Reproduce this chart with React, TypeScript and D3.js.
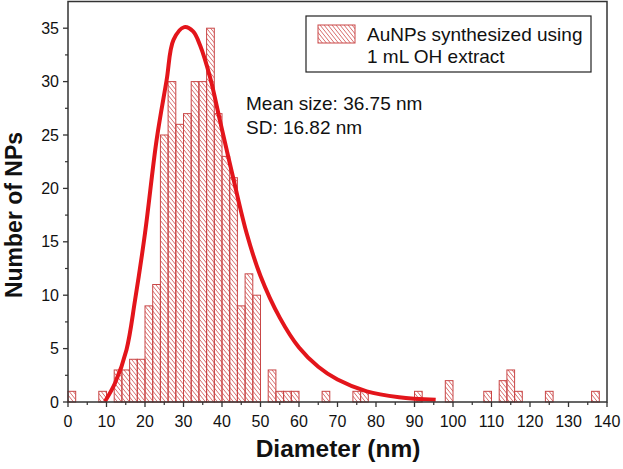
import React from "react";
import * as d3 from "d3";

const binStarts = [0, 8, 12, 14, 16, 18, 20, 22, 24, 26, 28, 30, 32, 34, 36, 38, 40, 42, 44, 46, 48, 52, 54, 56, 58, 66, 74, 76, 90, 98, 108, 112, 114, 116, 124, 136];
const counts = [1, 1, 3, 3, 4, 4, 9, 11, 25, 30, 26, 27, 30, 30, 35, 27, 23, 21, 9, 12, 10, 3, 1, 1, 1, 1, 1, 1, 1, 2, 1, 2, 3, 1, 1, 1];
const binWidth = 2;

const fitX = [9.6, 12.2, 15.2, 17.4, 20, 23, 25.6, 27.4, 30.2, 32.5, 34.3, 36.9, 39.5, 42.9, 46.4, 50, 55, 60, 65, 70, 77.6, 86, 95.5];
const fitY = [0.05, 1.75, 4.9, 9.5, 15.8, 24.5, 30.1, 33.9, 35.1, 34.7, 33.4, 30.4, 26.3, 21.0, 15.8, 11.8, 7.9, 5.1, 3.3, 2.1, 1.0, 0.45, 0.2];

const xTicks = [0, 10, 20, 30, 40, 50, 60, 70, 80, 90, 100, 110, 120, 130, 140];
const yTicks = [0, 5, 10, 15, 20, 25, 30, 35];
const xMinor = [5, 15, 25, 35, 45, 55, 65, 75, 85, 95, 105, 115, 125, 135];
const yMinor = [2.5, 7.5, 12.5, 17.5, 22.5, 27.5, 32.5];

const legendLines = ["AuNPs synthesized using", "1 mL OH extract"];
const statLines = ["Mean size: 36.75 nm", "SD: 16.82 nm"];

export default function App() {
  const W = 623, H = 469;
  const L = 68, R = 607, T = 1.5, B = 402;
  const x = d3.scaleLinear().domain([0, 140]).range([L, R]);
  const y = d3.scaleLinear().domain([0, 37.5]).range([B, T]);
  const line = d3
    .line<number>()
    .x((_, i) => x(fitX[i]))
    .y((_, i) => y(fitY[i]))
    .curve(d3.curveCatmullRom.alpha(0.5));
  const font = "'Liberation Sans', Arial, Helvetica, sans-serif";
  const barStroke = "#c94646";
  const axisColor = "#333";
  return (
    <svg width={W} height={H} style={{ position: "absolute", left: 0, top: 0, background: "#fff" }} fontFamily={font}>
      <defs>
        <pattern id="hatch" patternUnits="userSpaceOnUse" width="4" height="5">
          <path d="M-1,-1.25 L5,6.25 M-1,3.75 L1,6.25 M3,-1.25 L5,1.25" stroke="#d25a5a" strokeWidth="0.9" />
        </pattern>
      </defs>
      <rect x={0} y={0} width={W} height={H} fill="#fff" />
      {binStarts.map((s, i) => (
        <rect
          key={i}
          x={x(s)}
          y={y(counts[i])}
          width={x(s + binWidth) - x(s)}
          height={y(0) - y(counts[i])}
          fill="url(#hatch)"
          stroke={barStroke}
          strokeWidth={1}
        />
      ))}
      <path d={line(fitX) || ""} fill="none" stroke="#e3151b" strokeWidth={4} strokeLinecap="butt" />
      <rect x={L} y={T} width={R - L} height={B - T} fill="none" stroke={axisColor} strokeWidth={1.5} />
      {xTicks.map((t) => (
        <g key={"xt" + t}>
          <line x1={x(t)} x2={x(t)} y1={B} y2={B + 5} stroke={axisColor} strokeWidth={1.3} />
          <text x={x(t)} y={427} textAnchor="middle" fontSize={16} fill="#111">
            {t}
          </text>
        </g>
      ))}
      {xMinor.map((t) => (
        <line key={"xm" + t} x1={x(t)} x2={x(t)} y1={B} y2={B + 3} stroke={axisColor} strokeWidth={1.2} />
      ))}
      {yTicks.map((t) => (
        <g key={"yt" + t}>
          <line x1={L - 5} x2={L} y1={y(t)} y2={y(t)} stroke={axisColor} strokeWidth={1.3} />
          <text x={59} y={y(t) + 5.5} textAnchor="end" fontSize={16} fill="#111">
            {t}
          </text>
        </g>
      ))}
      {yMinor.map((t) => (
        <line key={"ym" + t} x1={L - 3} x2={L} y1={y(t)} y2={y(t)} stroke={axisColor} strokeWidth={1.2} />
      ))}
      <text x={338} y={457} textAnchor="middle" fontSize={24.5} fontWeight="bold" fill="#111">
        Diameter (nm)
      </text>
      <text transform="translate(22,215) rotate(-90)" textAnchor="middle" fontSize={23} fontWeight="bold" fill="#111">
        Number of NPs
      </text>
      <rect x={306} y={16} width={285} height={56} fill="#fff" stroke="#222" strokeWidth={1.2} />
      <rect x={318} y={25} width={37} height={18} fill="url(#hatch)" stroke={barStroke} strokeWidth={1} />
      {legendLines.map((s, i) => (
        <text key={s} x={367} y={41 + i * 22} fontSize={19} fill="#111">
          {s}
        </text>
      ))}
      {statLines.map((s, i) => (
        <text key={s} x={246} y={110 + i * 24} fontSize={19} fill="#111">
          {s}
        </text>
      ))}
    </svg>
  );
}
